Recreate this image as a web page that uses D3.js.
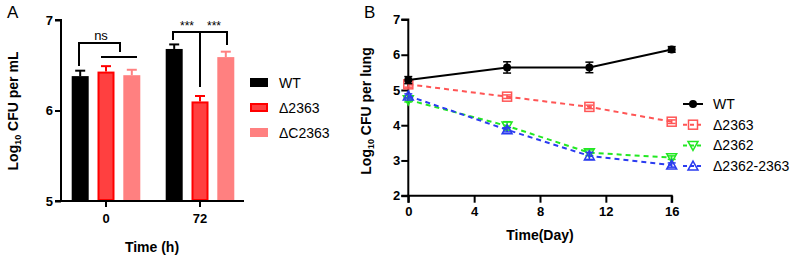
<!DOCTYPE html>
<html><head><meta charset="utf-8">
<script src="https://cdn.jsdelivr.net/npm/d3@7"></script>
<style>body{margin:0;background:#fff}svg{font-family:"Liberation Sans",Arial,sans-serif}</style>
</head><body>
<svg id="c" width="795" height="259"></svg>
<script>
// Panel A data
const groupsA = ["0", "72"];
const seriesA = ["WT", "Δ2363", "ΔC2363"];
const meanA = {"WT": [6.38, 6.68], "Δ2363": [6.43, 6.10], "ΔC2363": [6.39, 6.59]};
const errA = {"WT": [0.06, 0.05], "Δ2363": [0.06, 0.06], "ΔC2363": [0.06, 0.06]};
const ticksA = [5, 6, 7];
// Panel B data
const daysB = [0, 6, 11, 16];
const seriesB = ["WT", "Δ2363", "Δ2362", "Δ2362-2363"];
const valB = {
  "WT": [5.28, 5.64, 5.64, 6.15],
  "Δ2363": [5.16, 4.81, 4.52, 4.10],
  "Δ2362": [4.72, 3.98, 3.22, 3.08],
  "Δ2362-2363": [4.83, 3.87, 3.13, 2.87]
};
const errB = {
  "WT": [0.10, 0.16, 0.15, 0.08],
  "Δ2363": [0.08, 0.05, 0.05, 0.05],
  "Δ2362": [0.06, 0.12, 0.08, 0.05],
  "Δ2362-2363": [0.06, 0.06, 0.1, 0.06]
};
const ticksBx = [0, 4, 8, 12, 16];
const ticksBy = [2, 3, 4, 5, 6, 7];

const svg = d3.select("#c");

// ---------- Panel A ----------
const colA = {"WT": {fill: "#000", stroke: "#000"}, "Δ2363": {fill: "#ff4040", stroke: "#ff0000"}, "ΔC2363": {fill: "#ff8080", stroke: "#ff8080"}};
const yA = d3.scaleLinear().domain([5, 7]).range([201, 20]);
const xA = d3.scaleBand().domain(groupsA).range([59, 249]).paddingInner(0.0).paddingOuter(0);
// centers at 106 and 200
const xA2 = d3.scaleLinear().domain([0, 1]).range([106, 200]);
const barW = 17, barStep = 25.8;
const gA = svg.append("g");
groupsA.forEach((g, gi) => {
  seriesA.forEach((s, si) => {
    const cx = xA2(gi) + (si - 1) * barStep;
    const v = meanA[s][gi], e = errA[s][gi];
    const c = colA[s];
    // error bar
    gA.append("line").attr("x1", cx).attr("x2", cx).attr("y1", yA(v)).attr("y2", yA(v + e)).attr("stroke", c.stroke).attr("stroke-width", 2);
    gA.append("line").attr("x1", cx - 5).attr("x2", cx + 5).attr("y1", yA(v + e)).attr("y2", yA(v + e)).attr("stroke", c.stroke).attr("stroke-width", 2);
    const sw = s === "Δ2363" ? 2 : 0;
    gA.append("rect").attr("x", cx - barW / 2 + sw / 2).attr("y", yA(v) + sw / 2)
      .attr("width", barW - sw).attr("height", yA(5) - yA(v) - sw)
      .attr("fill", c.fill).attr("stroke", sw ? c.stroke : "none").attr("stroke-width", sw);
  });
});
// axes A
const axAy = d3.axisLeft(yA).tickValues(ticksA).tickSize(6).tickFormat(d3.format("d"));
gA.append("g").attr("transform", "translate(61,0)").call(axAy)
  .call(g => { g.select(".domain").attr("stroke-width", 2).attr("d", "M-6,201H0V20H-6"); g.selectAll("line").attr("stroke-width", 2); g.selectAll("text").attr("font-size", 13).attr("font-weight", "bold").attr("fill", "#000").attr("x", -8); });
gA.append("line").attr("x1", 55).attr("x2", 244).attr("y1", 201).attr("y2", 201).attr("stroke", "#000").attr("stroke-width", 2);
groupsA.forEach((g, gi) => {
  gA.append("line").attr("x1", xA2(gi)).attr("x2", xA2(gi)).attr("y1", 201).attr("y2", 207).attr("stroke", "#000").attr("stroke-width", 2);
  gA.append("text").attr("x", xA2(gi)).attr("y", 223).attr("text-anchor", "middle").attr("font-size", 13).attr("font-weight", "bold").text(g);
});
gA.append("text").attr("x", 152).attr("y", 252).attr("text-anchor", "middle").attr("font-size", 14).attr("font-weight", "bold").text("Time (h)");
const tA = gA.append("text").attr("transform", "translate(18,111) rotate(-90)").attr("text-anchor", "middle").attr("font-size", 14).attr("font-weight", "bold");
tA.append("tspan").text("Log");
tA.append("tspan").attr("font-size", 9).attr("dy", 3).text("10");
tA.append("tspan").attr("dy", -3).text(" CFU per mL");
svg.append("text").attr("x", 7).attr("y", 18).attr("font-size", 17).text("A");
// significance brackets
const br = (pts) => gA.append("path").attr("d", d3.line()(pts)).attr("fill", "none").attr("stroke", "#000").attr("stroke-width", 2);
br([[79, 66], [79, 43], [120, 43], [120, 52]]);
br([[101, 57], [137, 57]]);
gA.append("text").attr("x", 101).attr("y", 40).attr("text-anchor", "middle").attr("font-size", 13).text("ns");
br([[173, 40], [173, 32], [227, 32], [227, 45]]);
br([[200, 32], [200, 87]]);
gA.append("text").attr("x", 187).attr("y", 30).attr("text-anchor", "middle").attr("font-size", 12).text("***");
gA.append("text").attr("x", 214).attr("y", 30).attr("text-anchor", "middle").attr("font-size", 12).text("***");
// legend A
seriesA.forEach((s, i) => {
  const y = 78 + i * 25;
  const c = colA[s];
  const sw = s === "Δ2363" ? 2 : 0;
  gA.append("rect").attr("x", 250 + sw / 2).attr("y", y + sw / 2).attr("width", 18 - sw).attr("height", 9 - sw).attr("fill", c.fill).attr("stroke", sw ? c.stroke : "none").attr("stroke-width", sw);
  gA.append("text").attr("x", 279).attr("y", y + 10).attr("font-size", 14).text(s);
});

// ---------- Panel B ----------
const xB = d3.scaleLinear().domain([0, 16]).range([408.3, 671.7]);
const yB = d3.scaleLinear().domain([2, 7]).range([195.7, 19.5]);
const gB = svg.append("g");
gB.append("g").attr("transform", "translate(408.3,0)").call(d3.axisLeft(yB).tickValues(ticksBy).tickSize(7).tickFormat(d3.format("d")))
  .call(g => { g.select(".domain").attr("stroke-width", 2).attr("d", "M-7,195.7H0V19.5H-7"); g.selectAll("line").attr("stroke-width", 2); g.selectAll("text").attr("font-size", 13).attr("font-weight", "bold").attr("fill", "#000").attr("x", -8); });
gB.append("g").attr("transform", "translate(0,195.7)").call(d3.axisBottom(xB).tickValues(ticksBx).tickSize(7).tickFormat(d3.format("d")))
  .call(g => { g.select(".domain").attr("stroke-width", 2).attr("d", "M408.3,7V0H671.7V7"); g.selectAll("line").attr("stroke-width", 2); g.selectAll("text").attr("font-size", 13).attr("font-weight", "bold").attr("fill", "#000").attr("y", 11); });
gB.append("text").attr("x", 540).attr("y", 240).attr("text-anchor", "middle").attr("font-size", 14).attr("font-weight", "bold").text("Time(Day)");
const tB = gB.append("text").attr("transform", "translate(371,111) rotate(-90)").attr("text-anchor", "middle").attr("font-size", 14).attr("font-weight", "bold");
tB.append("tspan").text("Log");
tB.append("tspan").attr("font-size", 9).attr("dy", 3).text("10");
tB.append("tspan").attr("dy", -3).text(" CFU per lung");
svg.append("text").attr("x", 364).attr("y", 18).attr("font-size", 17).text("B");

const stB = {
  "WT": {c: "#000", dash: null, m: "dot"},
  "Δ2363": {c: "#ff5555", dash: "5,4", m: "square"},
  "Δ2362": {c: "#22e822", dash: "5,4", m: "down"},
  "Δ2362-2363": {c: "#2b3cf0", dash: "5,4", m: "up"}
};
function marker(g, type, x, y, c) {
  if (type === "dot") g.append("circle").attr("cx", x).attr("cy", y).attr("r", 4).attr("fill", c);
  else if (type === "square") g.append("rect").attr("x", x - 4.5).attr("y", y - 4.5).attr("width", 9).attr("height", 9).attr("fill", "none").attr("stroke", c).attr("stroke-width", 1.5);
  else {
    const s = 5;
    const pts = type === "up" ? [[x, y - s], [x + s, y + s * 0.8], [x - s, y + s * 0.8]] : [[x, y + s], [x + s, y - s * 0.8], [x - s, y - s * 0.8]];
    g.append("path").attr("d", d3.line()(pts) + "Z").attr("fill", "none").attr("stroke", c).attr("stroke-width", 1.5);
  }
}
const drawOrder = ["Δ2362", "Δ2362-2363", "Δ2363", "WT"];
drawOrder.forEach(s => {
  const st = stB[s];
  const pts = daysB.map((d, i) => [xB(d), yB(valB[s][i])]);
  gB.append("path").attr("d", d3.line()(pts)).attr("fill", "none").attr("stroke", st.c).attr("stroke-width", 2).attr("stroke-dasharray", st.dash);
  daysB.forEach((d, i) => {
    const v = valB[s][i], e = errB[s][i], x = xB(d);
    gB.append("line").attr("x1", x).attr("x2", x).attr("y1", yB(v - e)).attr("y2", yB(v + e)).attr("stroke", st.c).attr("stroke-width", 1.5);
    [v - e, v + e].forEach(w => gB.append("line").attr("x1", x - 4).attr("x2", x + 4).attr("y1", yB(w)).attr("y2", yB(w)).attr("stroke", st.c).attr("stroke-width", 1.5));
    marker(gB, st.m, x, yB(v), st.c);
  });
});
// legend B
seriesB.forEach((s, i) => {
  const y = 104 + i * 20.7;
  const st = stB[s];
  gB.append("line").attr("x1", 683).attr("x2", 703).attr("y1", y).attr("y2", y).attr("stroke", st.c).attr("stroke-width", 2).attr("stroke-dasharray", st.dash ? "4,3" : null);
  marker(gB, st.m, 693, y, st.c);
  gB.append("text").attr("x", 713).attr("y", y + 5).attr("font-size", 14).text(s);
});
</script>
</body></html>
